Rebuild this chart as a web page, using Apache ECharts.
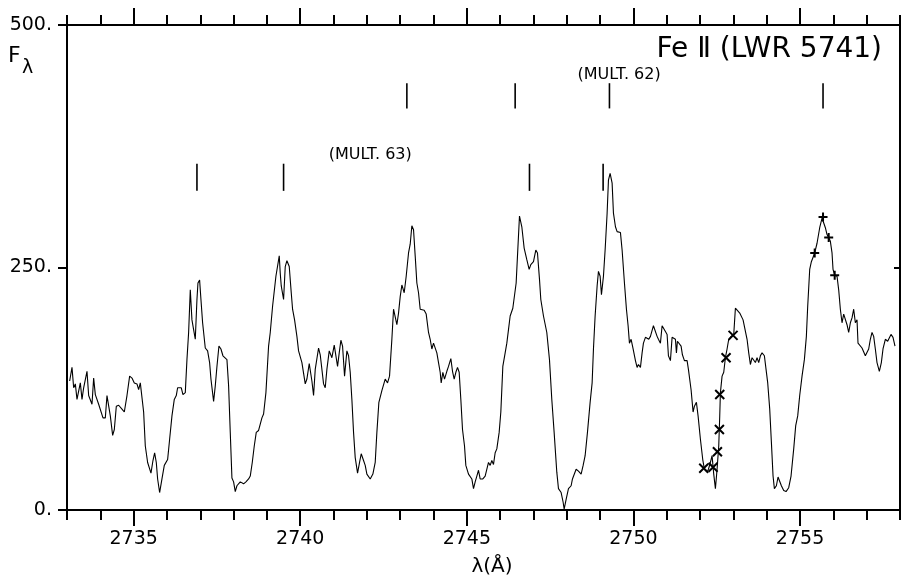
<!DOCTYPE html>
<html>
<head>
<meta charset="utf-8">
<title>Fe II (LWR 5741)</title>
<script src="https://cdn.jsdelivr.net/npm/echarts@6/dist/echarts.min.js"></script>
<style>
  html, body { margin: 0; padding: 0; background: #fff; }
  #chart { width: 903px; height: 582px; }
</style>
</head>
<body>
<div id="chart"></div>
<script>
// spectrum, wavelength in Angstrom and flux F_lambda
var wave = [
  2733.08, 2733.15, 2733.20, 2733.25, 2733.30, 2733.35, 2733.40, 2733.45, 2733.50, 2733.55,
  2733.60, 2733.65, 2733.75, 2733.80, 2733.85, 2733.90, 2733.95, 2734.00, 2734.08, 2734.15,
  2734.20, 2734.25, 2734.30, 2734.37, 2734.42, 2734.48, 2734.55, 2734.65, 2734.72, 2734.80,
  2734.88, 2734.95, 2735.02, 2735.10, 2735.15, 2735.20, 2735.25, 2735.30, 2735.35, 2735.42,
  2735.52, 2735.58, 2735.63, 2735.68, 2735.72, 2735.78, 2735.85, 2735.92, 2736.02, 2736.08,
  2736.15, 2736.22, 2736.28, 2736.32, 2736.38, 2736.43, 2736.48, 2736.55, 2736.60, 2736.65,
  2736.70, 2736.75, 2736.80, 2736.85, 2736.90, 2736.93, 2736.98, 2737.02, 2737.07, 2737.15,
  2737.22, 2737.28, 2737.32, 2737.35, 2737.40, 2737.45, 2737.50, 2737.56, 2737.62, 2737.68,
  2737.73, 2737.80, 2737.85, 2737.90, 2737.95, 2738.00, 2738.05, 2738.10, 2738.15, 2738.20,
  2738.25, 2738.30, 2738.37, 2738.45, 2738.50, 2738.56, 2738.62, 2738.68, 2738.75, 2738.80,
  2738.85, 2738.90, 2738.97, 2739.05, 2739.10, 2739.17, 2739.22, 2739.27, 2739.32, 2739.37,
  2739.40, 2739.43, 2739.50, 2739.55, 2739.60, 2739.67, 2739.73, 2739.77, 2739.83, 2739.90,
  2739.95, 2740.05, 2740.15, 2740.20, 2740.27, 2740.35, 2740.40, 2740.45, 2740.55, 2740.60,
  2740.65, 2740.70, 2740.75, 2740.80, 2740.87, 2740.95, 2741.02, 2741.07, 2741.12, 2741.17,
  2741.22, 2741.27, 2741.33, 2741.40, 2741.45, 2741.50, 2741.55, 2741.60, 2741.65, 2741.72,
  2741.78, 2741.83, 2741.90, 2741.95, 2742.00, 2742.05, 2742.10, 2742.18, 2742.25, 2742.30,
  2742.36, 2742.45, 2742.55, 2742.62, 2742.68, 2742.75, 2742.80, 2742.85, 2742.90, 2742.95,
  2743.00, 2743.05, 2743.12, 2743.18, 2743.25, 2743.30, 2743.35, 2743.40, 2743.45, 2743.50,
  2743.55, 2743.60, 2743.72, 2743.78, 2743.85, 2743.90, 2743.95, 2744.00, 2744.05, 2744.10,
  2744.15, 2744.20, 2744.23, 2744.28, 2744.33, 2744.40, 2744.45, 2744.52, 2744.57, 2744.62,
  2744.67, 2744.72, 2744.77, 2744.82, 2744.87, 2744.93, 2744.97, 2745.05, 2745.15, 2745.20,
  2745.25, 2745.30, 2745.35, 2745.40, 2745.48, 2745.55, 2745.60, 2745.65, 2745.70, 2745.75,
  2745.80, 2745.85, 2745.90, 2745.97, 2746.02, 2746.08, 2746.15, 2746.20, 2746.25, 2746.30,
  2746.38, 2746.42, 2746.48, 2746.52, 2746.58, 2746.65, 2746.72, 2746.77, 2746.80, 2746.87,
  2746.92, 2747.00, 2747.07, 2747.12, 2747.18, 2747.22, 2747.30, 2747.40, 2747.48, 2747.55,
  2747.62, 2747.70, 2747.75, 2747.78, 2747.83, 2747.89, 2747.92, 2747.98, 2748.05, 2748.13,
  2748.17, 2748.22, 2748.28, 2748.35, 2748.43, 2748.49, 2748.55, 2748.62, 2748.70, 2748.76,
  2748.80, 2748.85, 2748.91, 2748.95, 2749.00, 2749.04, 2749.10, 2749.15, 2749.21, 2749.25,
  2749.30, 2749.36, 2749.40, 2749.46, 2749.51, 2749.61, 2749.66, 2749.73, 2749.79, 2749.84,
  2749.88, 2749.93, 2749.99, 2750.06, 2750.11, 2750.15, 2750.21, 2750.26, 2750.30, 2750.36,
  2750.41, 2750.46, 2750.51, 2750.56, 2750.60, 2750.66, 2750.71, 2750.75, 2750.81, 2750.86,
  2750.90, 2750.96, 2751.01, 2751.05, 2751.11, 2751.16, 2751.20, 2751.26, 2751.29, 2751.32,
  2751.38, 2751.43, 2751.47, 2751.53, 2751.61, 2751.65, 2751.73, 2751.79, 2751.83, 2751.89,
  2751.94, 2752.01, 2752.08, 2752.13, 2752.21, 2752.25, 2752.31, 2752.36, 2752.41, 2752.46,
  2752.51, 2752.56, 2752.59, 2752.61, 2752.66, 2752.71, 2752.76, 2752.81, 2752.86, 2752.93,
  2753.01, 2753.06, 2753.11, 2753.19, 2753.29, 2753.33, 2753.41, 2753.46, 2753.51, 2753.56,
  2753.61, 2753.66, 2753.71, 2753.76, 2753.81, 2753.86, 2753.93, 2753.98, 2754.03, 2754.09,
  2754.14, 2754.19, 2754.23, 2754.29, 2754.34, 2754.39, 2754.44, 2754.51, 2754.58, 2754.66,
  2754.73, 2754.81, 2754.87, 2754.93, 2754.99, 2755.06, 2755.13, 2755.19, 2755.23, 2755.29,
  2755.34, 2755.39, 2755.44, 2755.51, 2755.59, 2755.66, 2755.71, 2755.76, 2755.81, 2755.86,
  2755.91, 2755.96, 2755.99, 2756.04, 2756.11, 2756.16, 2756.21, 2756.26, 2756.31, 2756.36,
  2756.41, 2756.46, 2756.51, 2756.56, 2756.61, 2756.66, 2756.71, 2756.74, 2756.79, 2756.86,
  2756.91, 2756.96, 2757.01, 2757.06, 2757.11, 2757.16, 2757.21, 2757.26, 2757.31, 2757.38,
  2757.44, 2757.49, 2757.56, 2757.63, 2757.68, 2757.73, 2757.79, 2757.85
];
var flux = [
  133, 147, 126, 130, 114, 116, 131, 114, 126, 128,
  143, 118, 109, 136, 119, 120, 109, 110, 95, 95,
  118, 116, 97, 77, 83, 107, 108, 104, 101, 118,
  138, 136, 131, 130, 124, 131, 130, 101, 66, 49,
  38, 51, 59, 49, 32, 18, 32, 46, 52, 73,
  97, 114, 118, 126, 124, 126, 119, 121, 155, 183,
  227, 196, 186, 176, 217, 234, 237, 217, 193, 167,
  164, 152, 135, 136, 112, 128, 148, 169, 166, 159,
  160, 155, 128, 80, 33, 29, 19, 25, 27, 29,
  27, 27, 29, 32, 35, 49, 66, 80, 82, 84,
  95, 99, 121, 169, 183, 210, 212, 241, 243, 262,
  244, 231, 217, 251, 257, 251, 224, 207, 196, 179,
  164, 152, 130, 135, 151, 133, 118, 145, 167, 160,
  160, 130, 126, 145, 164, 157, 170, 169, 148, 162,
  175, 169, 138, 164, 159, 142, 114, 80, 54, 38,
  49, 58, 51, 46, 37, 38, 32, 37, 49, 80,
  111, 123, 135, 131, 138, 176, 207, 206, 191, 203,
  220, 232, 224, 241, 265, 274, 293, 289, 262, 234,
  224, 207, 206, 202, 183, 176, 166, 172, 174, 162,
  152, 142, 131, 142, 135, 143, 148, 156, 143, 135,
  142, 147, 142, 114, 83, 66, 46, 37, 32, 22,
  29, 35, 41, 32, 32, 35, 37, 49, 46, 51,
  47, 59, 63, 80, 101, 148, 162, 172, 186, 200,
  208, 210, 234, 262, 303, 292, 270, 272, 258, 248,
  253, 256, 268, 265, 238, 217, 200, 183, 155, 114,
  80, 39, 22, 23, 18, 8, 1, 11, 22, 25,
  32, 34, 42, 40, 37, 46, 56, 80, 111, 131,
  166, 200, 231, 246, 241, 222, 241, 268, 306, 340,
  347, 337, 306, 292, 287, 286, 268, 234, 207, 190,
  172, 176, 166, 154, 147, 150, 147, 162, 172, 178,
  176, 176, 179, 181, 190, 190, 179, 176, 172, 190,
  191, 184, 181, 159, 154, 178, 179, 176, 162, 174,
  176, 169, 160, 154, 154, 145, 124, 101, 107, 111,
  97, 73, 52, 42, 39, 42, 49, 56, 37, 22,
  42, 66, 97, 121, 138, 142, 157, 166, 176, 179,
  181, 208, 208, 203, 196, 195, 176, 162, 150, 157,
  155, 152, 157, 152, 159, 162, 159, 145, 131, 104,
  70, 35, 22, 25, 34, 35, 25, 20, 19, 23,
  35, 63, 87, 97, 118, 138, 155, 179, 210, 248,
  256, 258, 265, 275, 291, 301, 303, 291, 284, 281,
  277, 265, 248, 242, 241, 227, 207, 193, 202, 200,
  191, 183, 193, 198, 207, 193, 196, 172, 172, 167,
  167, 159, 159, 166, 176, 183, 179, 166, 152, 143,
  152, 166, 176, 174, 172, 181, 178, 169
];

// points marked with x and + on the curve
var crossWave = [2752.11, 2752.39, 2752.52, 2752.58, 2752.59, 2752.78, 2752.99];
var crossFlux = [43, 44, 60, 83, 119, 157, 180];
var plusWave = [2755.44, 2755.69, 2755.86, 2756.04];
var plusFlux = [265, 302, 281, 242];

// line identifications
var mult62Wave = [2743.20, 2746.45, 2749.28, 2755.69];
var mult62Span = [414, 440];
var mult63Wave = [2736.90, 2739.50, 2746.88, 2749.09];
var mult63Span = [329, 357];
var multLabels = [
  [2742.10, 366, '(MULT. 63)'],
  [2749.57, 449, '(MULT. 62)']
];

// axes
var majorTicks = [2735, 2740, 2745, 2750, 2755];
var minorTicks = [];
for (var t = 2733; t <= 2758; t++) minorTicks.push(t);
var xMin = 2733, xMax = 2758;

var font = 'DejaVu Sans';
var black = '#000';

function xAxisDef(pos, ticks, len, withLabels) {
    return {
        type: 'value',
        position: pos,
        min: xMin,
        max: xMax,
        axisLine: { show: true, onZero: false, lineStyle: { color: black, width: 2 } },
        axisTick: { show: true, customValues: ticks, length: len, lineStyle: { color: black, width: 2 } },
        axisLabel: {
            show: !!withLabels,
            customValues: ticks,
            formatter: function (v) { return String(v); },
            color: black, fontFamily: font, fontSize: 19, margin: 20
        },
        splitLine: { show: false }
    };
}

var bottomMajor = xAxisDef('bottom', majorTicks, 16, true);
bottomMajor.name = 'λ(Å)';
bottomMajor.nameLocation = 'middle';
bottomMajor.nameGap = 47;
bottomMajor.nameTextStyle = { color: black, fontFamily: font, fontSize: 20, padding: [0, 0, 0, 17] };

var option = {
    animation: false,
    backgroundColor: '#fff',
    title: {
        text: 'Fe Ⅱ (LWR 5741)',
        right: 21,
        top: 36,
        padding: 0,
        textStyle: { color: black, fontFamily: font, fontSize: 28, fontWeight: 'normal' }
    },
    graphic: [
        { type: 'text', left: 8, top: 45, style: { text: 'F', fill: black, font: '22px "DejaVu Sans"' } },
        { type: 'text', left: 22, top: 59, style: { text: 'λ', fill: black, font: '19px "DejaVu Sans"' } }
    ],
    grid: { left: 67, right: 3, top: 25, bottom: 71 },
    xAxis: [
        bottomMajor,
        xAxisDef('bottom', minorTicks, 10, false),
        xAxisDef('top', majorTicks, 17, false),
        xAxisDef('top', minorTicks, 10, false)
    ],
    yAxis: [
        {
            type: 'value', position: 'left', min: 0, max: 500, interval: 250,
            axisLine: { show: true, lineStyle: { color: black, width: 2 } },
            axisTick: { show: true, length: 9, lineStyle: { color: black, width: 2 } },
            axisLabel: {
                formatter: function (v) { return v + '.'; },
                color: black, fontFamily: font, fontSize: 19, margin: 15
            },
            splitLine: { show: false }
        },
        {
            type: 'value', position: 'right', min: 0, max: 500, interval: 250,
            axisLine: { show: true, lineStyle: { color: black, width: 2 } },
            axisTick: { show: true, inside: true, length: 6, lineStyle: { color: black, width: 2 } },
            axisLabel: { show: false },
            splitLine: { show: false }
        }
    ],
    series: [
        {
            name: 'spectrum',
            type: 'line',
            data: wave.map(function (w, i) { return [w, flux[i]]; }),
            symbol: 'none',
            lineStyle: { color: black, width: 1.1 },
            z: 3
        },
        {
            type: 'custom',
            data: mult62Wave.map(function (w) { return [w, mult62Span[0], mult62Span[1]]; })
                .concat(mult63Wave.map(function (w) { return [w, mult63Span[0], mult63Span[1]]; })),
            renderItem: function (params, api) {
                var p1 = api.coord([api.value(0), api.value(1)]);
                var p2 = api.coord([api.value(0), api.value(2)]);
                return {
                    type: 'line',
                    shape: { x1: p1[0], y1: p1[1], x2: p2[0], y2: p2[1] },
                    style: { stroke: black, lineWidth: 1.6 }
                };
            },
            z: 4
        },
        {
            type: 'scatter',
            data: multLabels,
            symbolSize: 0,
            itemStyle: { opacity: 1 },
            label: {
                show: true, position: 'inside',
                formatter: function (p) { return p.value[2]; },
                color: black, fontFamily: font, fontSize: 16
            }
        },
        {
            type: 'scatter',
            data: crossWave.map(function (w, i) { return [w, crossFlux[i]]; }),
            symbol: 'path://M0,0L10,10M10,0L0,10',
            symbolSize: 9,
            itemStyle: { color: 'none', borderColor: black, borderWidth: 2, opacity: 1 },
            z: 5
        },
        {
            type: 'scatter',
            data: plusWave.map(function (w, i) { return [w, plusFlux[i]]; }),
            symbol: 'path://M5,0L5,10M0,5L10,5',
            symbolSize: 9,
            itemStyle: { color: 'none', borderColor: black, borderWidth: 2, opacity: 1 },
            z: 5
        }
    ]
};

var chart = echarts.init(document.getElementById('chart'));
chart.setOption(option);
</script>
</body>
</html>
